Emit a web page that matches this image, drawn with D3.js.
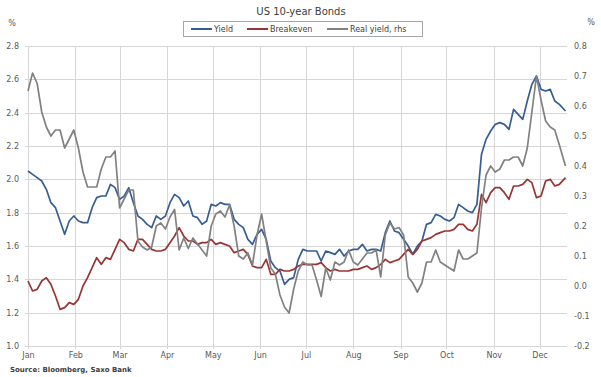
<!DOCTYPE html>
<html>
<head>
<meta charset="utf-8">
<script src="https://cdn.jsdelivr.net/npm/d3@7"></script>
<style>
  body { margin: 0; background: #fff; }
  svg { font-family: "DejaVu Sans", Verdana, sans-serif; }
</style>
</head>
<body>
<svg id="chart" width="601" height="377"></svg>
<script>
// day of year 2016 (0 = 1 Jan) for each reading
const dayOfYear = [
  0, 3, 6, 9, 12, 15, 18, 21, 24, 27,
  30, 33, 36, 39, 42, 45, 48, 51, 54, 57,
  60, 63, 66, 69, 72, 75, 78, 81, 84, 87,
  90, 93, 96, 99, 102, 105, 108, 111, 114, 117,
  120, 123, 126, 129, 132, 135, 138, 141, 144, 147,
  150, 153, 156, 159, 162, 165, 168, 171, 174, 177,
  180, 183, 186, 189, 192, 195, 198, 201, 204, 207,
  210, 213, 216, 219, 222, 225, 228, 231, 234, 237,
  240, 243, 246, 249, 252, 255, 258, 261, 264, 267,
  270, 273, 276, 279, 282, 285, 288, 291, 294, 297,
  300, 303, 306, 309, 312, 315, 318, 321, 324, 327,
  330, 333, 336, 339, 342, 345, 348, 352
];

// US 10y nominal yield, %, left axis
const yieldPct = [
  2.05, 2.03, 2.01, 1.99, 1.94, 1.86, 1.83, 1.75, 1.67, 1.75,
  1.78, 1.75, 1.74, 1.74, 1.83, 1.89, 1.90, 1.90, 1.97, 1.95,
  1.88, 1.90, 1.95, 1.86, 1.78, 1.76, 1.73, 1.71, 1.78, 1.76,
  1.78, 1.86, 1.91, 1.89, 1.84, 1.87, 1.78, 1.77, 1.73, 1.75,
  1.85, 1.84, 1.86, 1.85, 1.85, 1.76, 1.73, 1.71, 1.64, 1.61,
  1.67, 1.70, 1.64, 1.51, 1.47, 1.45, 1.37, 1.40, 1.41, 1.52,
  1.58, 1.57, 1.57, 1.57, 1.51, 1.57, 1.56, 1.55, 1.58, 1.54,
  1.57, 1.58, 1.58, 1.61, 1.57, 1.58, 1.58, 1.57, 1.68, 1.75,
  1.69, 1.68, 1.64, 1.60, 1.55, 1.60, 1.63, 1.73, 1.74, 1.79,
  1.78, 1.76, 1.75, 1.77, 1.85, 1.83, 1.81, 1.80, 1.85, 2.15,
  2.24, 2.29, 2.33, 2.34, 2.33, 2.30, 2.42, 2.39, 2.36, 2.47,
  2.57, 2.62, 2.54, 2.53, 2.54, 2.47, 2.45, 2.41
];

// 10y breakeven inflation, %, left axis
const breakeven = [
  1.39, 1.33, 1.34, 1.39, 1.41, 1.37, 1.30, 1.22, 1.23, 1.26,
  1.25, 1.28, 1.36, 1.41, 1.47, 1.53, 1.49, 1.53, 1.52, 1.58,
  1.64, 1.62, 1.58, 1.57, 1.64, 1.64, 1.61, 1.58, 1.57, 1.57,
  1.58, 1.62, 1.66, 1.71, 1.66, 1.63, 1.63, 1.61, 1.62, 1.62,
  1.64, 1.61, 1.62, 1.61, 1.60, 1.56, 1.57, 1.58, 1.55, 1.48,
  1.47, 1.47, 1.52, 1.43, 1.43, 1.46, 1.45, 1.45, 1.46, 1.48,
  1.49, 1.49, 1.49, 1.49, 1.50, 1.47, 1.45, 1.46, 1.45, 1.45,
  1.45, 1.46, 1.46, 1.47, 1.48, 1.46, 1.47, 1.49, 1.52, 1.50,
  1.51, 1.52, 1.55, 1.58, 1.55, 1.58, 1.63, 1.64, 1.65, 1.67,
  1.68, 1.69, 1.69, 1.70, 1.73, 1.73, 1.70, 1.69, 1.73, 1.91,
  1.86, 1.92, 1.95, 1.95, 1.92, 1.88, 1.96, 1.96, 1.97, 2.00,
  1.98, 1.89, 1.90, 1.99, 2.00, 1.96, 1.97, 2.01
];

// real yield, %, right axis
const realYield = [
  0.65, 0.71, 0.675, 0.58, 0.53, 0.50, 0.52, 0.52, 0.46, 0.49,
  0.52, 0.46, 0.38, 0.33, 0.33, 0.33, 0.39, 0.43, 0.43, 0.45,
  0.26, 0.29, 0.32, 0.32, 0.15, 0.13, 0.12, 0.13, 0.20, 0.21,
  0.19, 0.23, 0.255, 0.12, 0.16, 0.125, 0.16, 0.14, 0.12, 0.10,
  0.20, 0.24, 0.25, 0.23, 0.27, 0.20, 0.10, 0.09, 0.11, 0.07,
  0.17, 0.24, 0.15, 0.06, 0.04, -0.03, -0.07, -0.09, -0.01, 0.05,
  0.08, 0.07, 0.07, 0.02, -0.035, 0.06, 0.02, 0.08, 0.07, 0.08,
  0.12, 0.08, 0.07, 0.09, 0.11, 0.11, 0.12, 0.03, 0.17, 0.21,
  0.19, 0.195, 0.17, 0.03, 0.01, -0.02, 0.01, 0.08, 0.08, 0.12,
  0.08, 0.07, 0.06, 0.05, 0.12, 0.09, 0.09, 0.10, 0.11, 0.26,
  0.37, 0.40, 0.38, 0.39, 0.42, 0.42, 0.43, 0.43, 0.40, 0.46,
  0.58, 0.70, 0.62, 0.55, 0.53, 0.52, 0.47, 0.40
];

const monthLabels = ['Jan', 'Feb', 'Mar', 'Apr', 'May', 'Jun', 'Jul', 'Aug', 'Sep', 'Oct', 'Nov', 'Dec'];
const leftTicks = [1.0, 1.2, 1.4, 1.6, 1.8, 2.0, 2.2, 2.4, 2.6, 2.8];
const rightTicks = [-0.2, -0.1, 0.0, 0.1, 0.2, 0.3, 0.4, 0.5, 0.6, 0.7, 0.8];

[yieldPct, breakeven, realYield].forEach(s => {
  if (s.length !== dayOfYear.length) throw new Error('length mismatch ' + s.length + ' vs ' + dayOfYear.length);
});

const start = new Date(2016, 0, 1);
const dates = dayOfYear.map(d => d3.timeDay.offset(start, d));
const months = monthLabels.map((m, i) => new Date(2016, i, 1));

const plotLeft = 28, plotRight = 567, plotTop = 46, plotBottom = 346;

const svg = d3.select('#chart');

const x = d3.scaleTime()
  .domain([start, new Date(2016, 11, 19)])
  .range([plotLeft, plotRight]);

const yLeft = d3.scaleLinear()
  .domain([1.0, 2.8])
  .range([plotBottom, plotTop]);

const yRight = d3.scaleLinear()
  .domain([-0.2, 0.8])
  .range([plotBottom, plotTop]);

// gridlines
const grid = svg.append('g').attr('class', 'grid');

grid.selectAll('.hgrid')
  .data(leftTicks)
  .enter().append('line')
  .attr('class', 'hgrid')
  .attr('x1', plotLeft - 3)
  .attr('x2', plotRight)
  .attr('y1', d => Math.round(yLeft(d)) + 0.5)
  .attr('y2', d => Math.round(yLeft(d)) + 0.5)
  .attr('stroke', '#d6d6d6')

grid.selectAll('.vgrid')
  .data(months)
  .enter().append('line')
  .attr('class', 'vgrid')
  .attr('x1', d => Math.round(x(d)) + 0.5)
  .attr('x2', d => Math.round(x(d)) + 0.5)
  .attr('y1', plotTop)
  .attr('y2', plotBottom + 3)
  .attr('stroke', '#d6d6d6')

// axes (labels only)
const tickColor = '#595959';

const yLeftAxis = svg.append('g')
  .attr('transform', `translate(${plotLeft},0)`)
  .call(d3.axisLeft(yLeft).tickValues(leftTicks).tickFormat(d => d.toFixed(1)).tickSize(0).tickPadding(9))
yLeftAxis.select('.domain').remove()

const yRightAxis = svg.append('g')
  .attr('transform', `translate(${plotRight},0)`)
  .call(d3.axisRight(yRight).tickValues(rightTicks).tickFormat(d => d.toFixed(1)).tickSize(0).tickPadding(7))
yRightAxis.select('.domain').remove()

const xAxis = svg.append('g')
  .attr('transform', `translate(0,${plotBottom})`)
  .call(d3.axisBottom(x).tickValues(months).tickFormat((d, i) => monthLabels[i]).tickSize(0).tickPadding(6))
xAxis.select('.domain').remove()

svg.selectAll('.tick text')
  .attr('fill', tickColor)
  .style('font-size', '8px')
  .style('font-family', '"DejaVu Sans", Verdana, sans-serif')

// unit labels
svg.append('text')
  .attr('x', 12).attr('y', 26)
  .attr('text-anchor', 'middle')
  .attr('fill', tickColor)
  .style('font-size', '8px')
  .text('%')

svg.append('text')
  .attr('x', 591).attr('y', 25)
  .attr('text-anchor', 'middle')
  .attr('fill', tickColor)
  .style('font-size', '8px')
  .text('%')

// series
const seriesList = [
  { name: 'Yield', values: yieldPct, scale: yLeft, color: '#375e92' },
  { name: 'Breakeven', values: breakeven, scale: yLeft, color: '#963634' },
  { name: 'Real yield, rhs', values: realYield, scale: yRight, color: '#818181' },
]

const line = scale => d3.line()
  .x(d => x(d.date))
  .y(d => scale(d.value))

svg.append('g')
  .attr('class', 'lines')
  .selectAll('path')
  .data(seriesList)
  .enter().append('path')
  .attr('fill', 'none')
  .attr('stroke', d => d.color)
  .attr('stroke-width', 1.7)
  .attr('stroke-linejoin', 'round')
  .attr('d', d => line(d.scale)(d.values.map((v, i) => ({ date: dates[i], value: v }))))

// title
svg.append('text')
  .attr('x', 301).attr('y', 15)
  .attr('text-anchor', 'middle')
  .attr('fill', '#404040')
  .style('font-size', '10px')
  .text('US 10-year Bonds')

// legend
const legend = svg.append('g').attr('class', 'legend')
legend.append('rect')
  .attr('x', 183.5).attr('y', 21.5)
  .attr('width', 239).attr('height', 15)
  .attr('fill', '#fff')
  .attr('stroke', '#a6a6a6')

const legendX = [191, 247, 327]
const item = legend.selectAll('.item')
  .data(seriesList)
  .enter().append('g')
  .attr('class', 'item')
  .attr('transform', (d, i) => `translate(${legendX[i]},29)`)

item.append('line')
  .attr('x1', 0).attr('x2', 21)
  .attr('stroke', d => d.color)
  .attr('stroke-width', 2)

item.append('text')
  .attr('x', 23).attr('y', 3)
  .attr('fill', '#404040')
  .style('font-size', '8px')
  .text(d => d.name)

// source
svg.append('text')
  .attr('x', 10).attr('y', 372)
  .attr('fill', '#404040')
  .style('font-size', '7px')
  .style('font-weight', 'bold')
  .text('Source: Bloomberg, Saxo Bank')
</script>
</body>
</html>
